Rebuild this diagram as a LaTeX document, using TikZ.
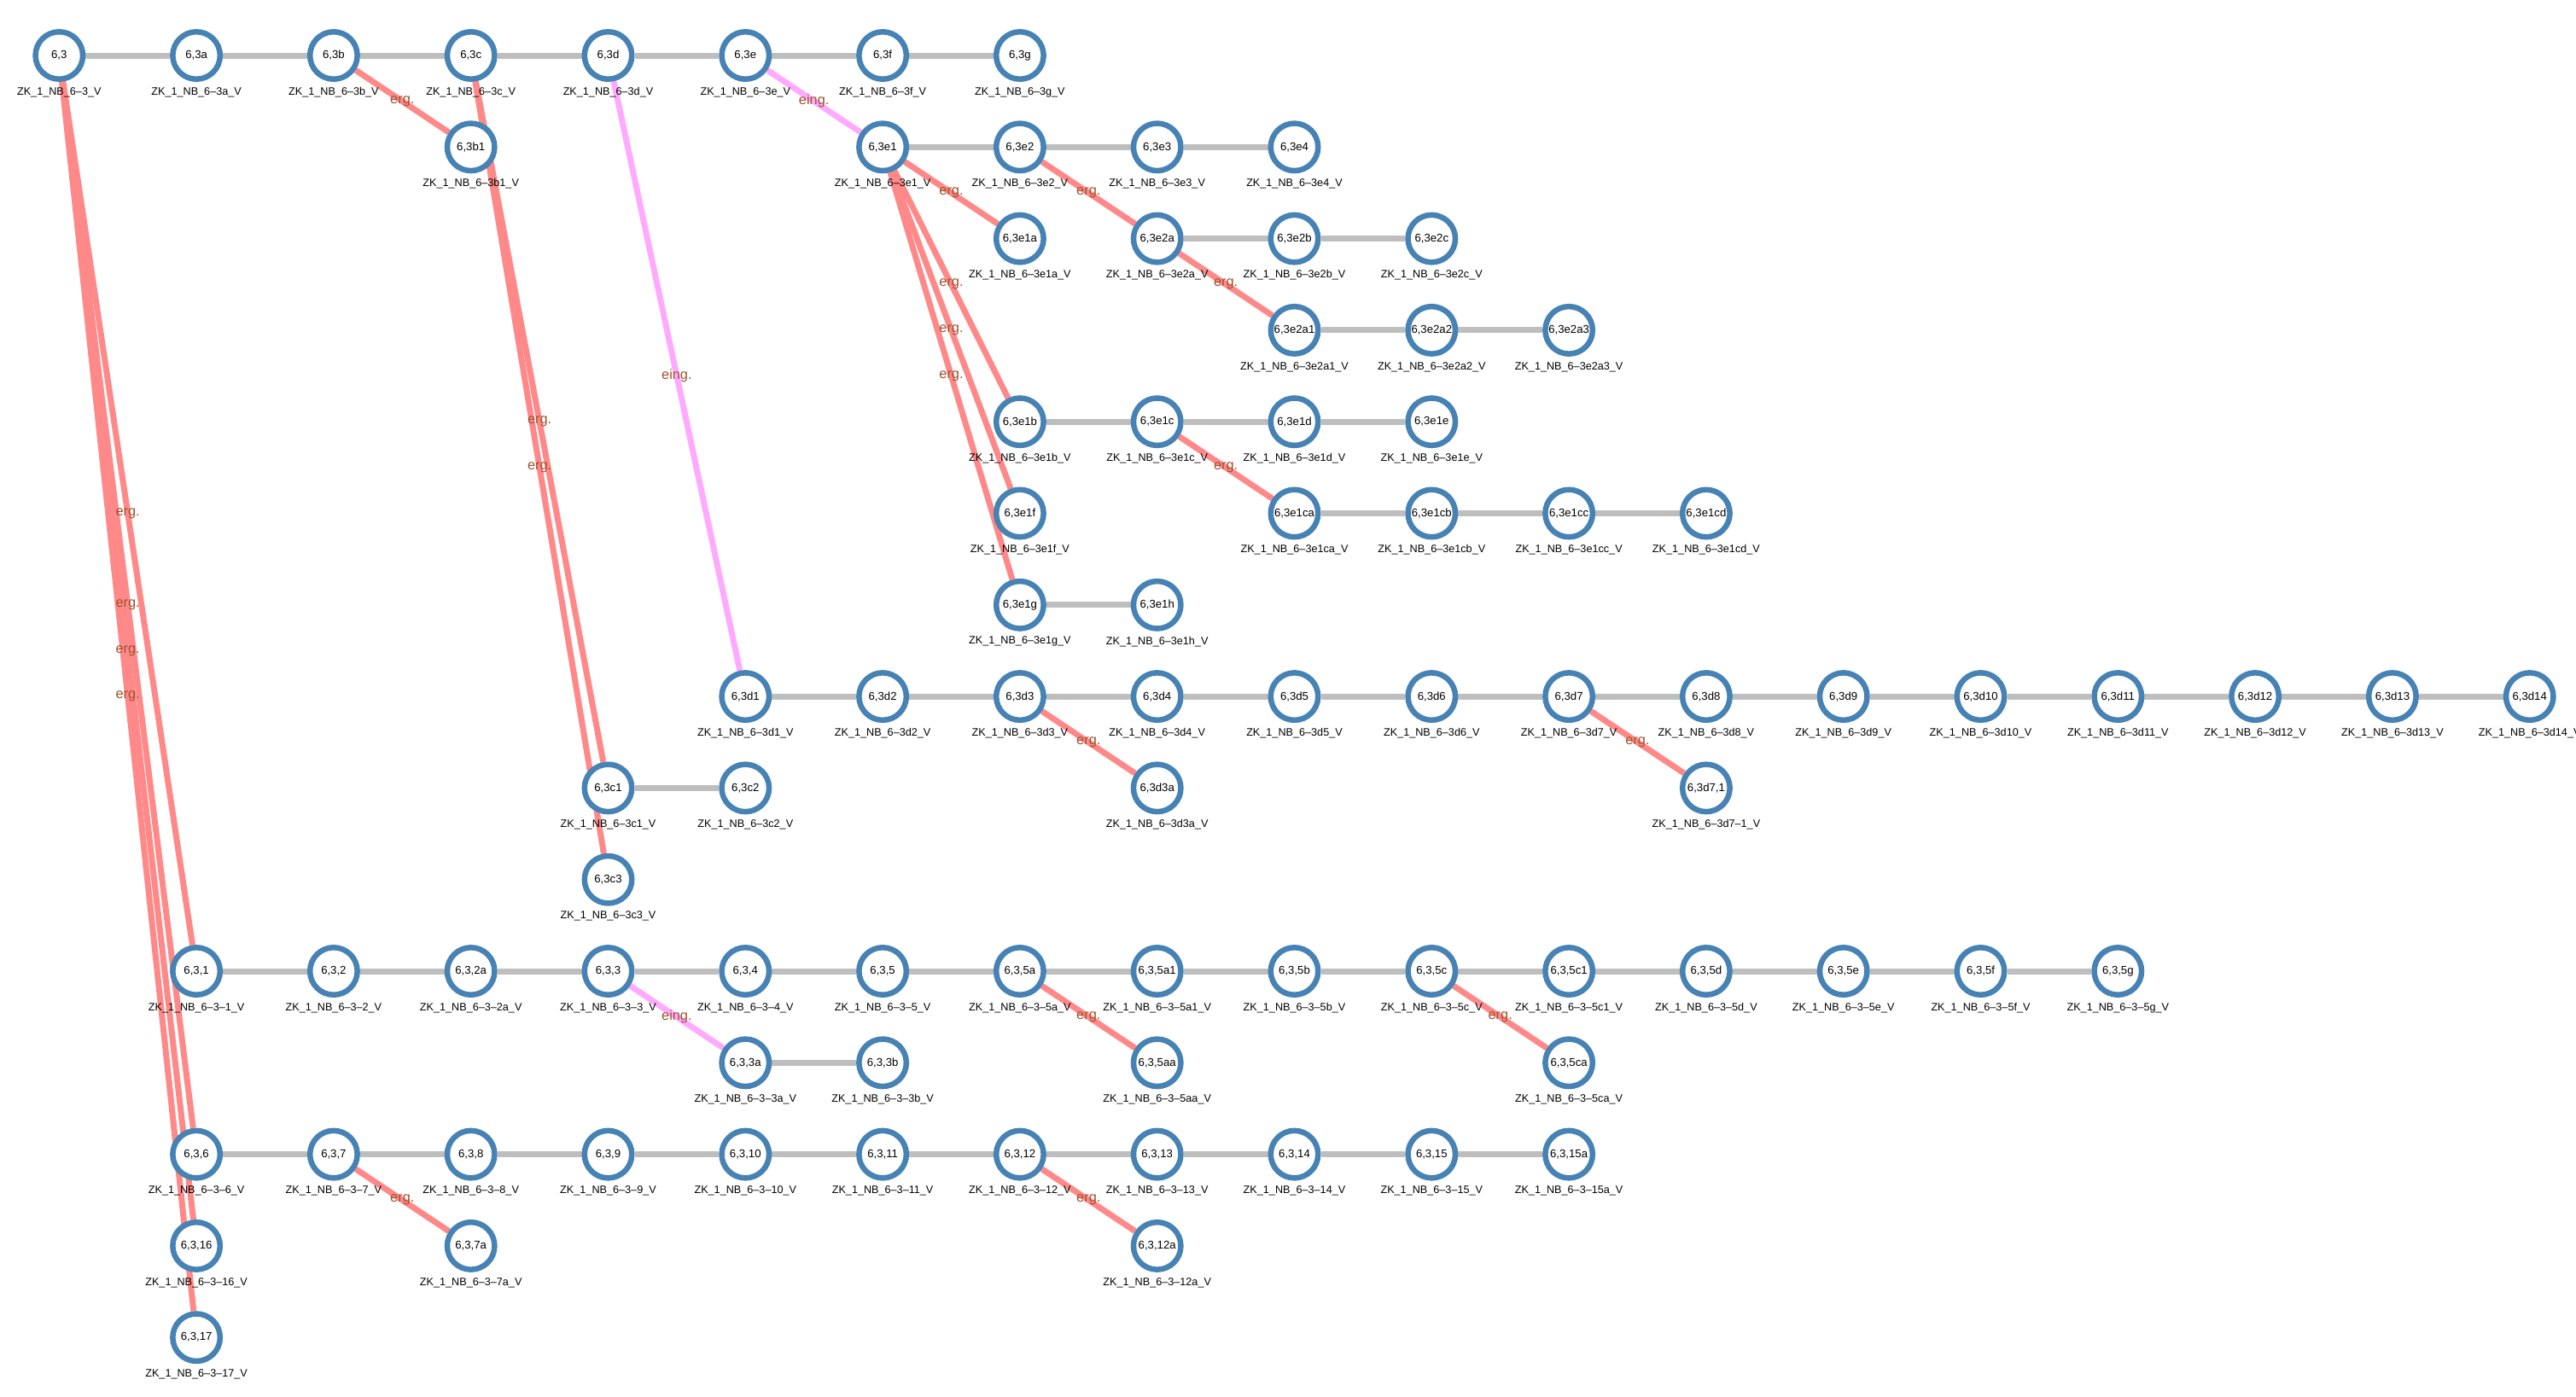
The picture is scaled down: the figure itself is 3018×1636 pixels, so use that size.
\documentclass[tikz,border=0pt]{standalone}
\usepackage{fontspec}
\setmainfont{Liberation Sans}
\usetikzlibrary{calc,backgrounds}

\definecolor{nodeblue}{RGB}{70,130,180}
\definecolor{seqgray}{RGB}{190,190,190}
\definecolor{ergred}{RGB}{255,136,136}
\definecolor{eingpink}{RGB}{255,170,255}
\definecolor{relbrown}{RGB}{160,82,45}

\tikzset{
  zk/.style={circle,draw=nodeblue,line width=0.13cm,fill=white,minimum size=1.11cm,inner sep=0pt,font=\fontsize{7.5}{8}\selectfont},
  zkname/.style={inner sep=0pt,font=\fontsize{7.2}{8}\selectfont},
  seq/.style={draw=seqgray,line width=0.14cm},
  erg/.style={draw=ergred,line width=0.14cm},
  eing/.style={draw=eingpink,line width=0.14cm},
  rel/.style={inner sep=0pt,text=relbrown,font=\fontsize{9.3}{10}\selectfont},
}

\begin{document}
\begin{tikzpicture}[x=0.02cm,y=-0.02cm]
  \useasboundingbox (0,0) rectangle (3018,1636);
  \foreach \c/\r/\id/\txt/\sfx in {
      0/0/3/{6,3}/3, 1/0/3a/{6,3a}/3a, 2/0/3b/{6,3b}/3b, 3/0/3c/{6,3c}/3c,
      4/0/3d/{6,3d}/3d, 5/0/3e/{6,3e}/3e, 6/0/3f/{6,3f}/3f, 7/0/3g/{6,3g}/3g,
      3/1/3b1/{6,3b1}/3b1, 6/1/3e1/{6,3e1}/3e1, 7/1/3e2/{6,3e2}/3e2,
      8/1/3e3/{6,3e3}/3e3, 9/1/3e4/{6,3e4}/3e4,
      7/2/3e1a/{6,3e1a}/3e1a, 8/2/3e2a/{6,3e2a}/3e2a, 9/2/3e2b/{6,3e2b}/3e2b,
      10/2/3e2c/{6,3e2c}/3e2c,
      9/3/3e2a1/{6,3e2a1}/3e2a1, 10/3/3e2a2/{6,3e2a2}/3e2a2, 11/3/3e2a3/{6,3e2a3}/3e2a3,
      7/4/3e1b/{6,3e1b}/3e1b, 8/4/3e1c/{6,3e1c}/3e1c, 9/4/3e1d/{6,3e1d}/3e1d,
      10/4/3e1e/{6,3e1e}/3e1e,
      7/5/3e1f/{6,3e1f}/3e1f, 9/5/3e1ca/{6,3e1ca}/3e1ca, 10/5/3e1cb/{6,3e1cb}/3e1cb,
      11/5/3e1cc/{6,3e1cc}/3e1cc, 12/5/3e1cd/{6,3e1cd}/3e1cd,
      7/6/3e1g/{6,3e1g}/3e1g, 8/6/3e1h/{6,3e1h}/3e1h,
      4/8/3c1/{6,3c1}/3c1, 5/8/3c2/{6,3c2}/3c2, 8/8/3d3a/{6,3d3a}/3d3a,
      12/8/3d7-1/{6,3d7,1}/3d7–1,
      4/9/3c3/{6,3c3}/3c3,
      1/10/3-1/{6,3,1}/3–1, 2/10/3-2/{6,3,2}/3–2, 3/10/3-2a/{6,3,2a}/3–2a,
      4/10/3-3/{6,3,3}/3–3, 5/10/3-4/{6,3,4}/3–4, 6/10/3-5/{6,3,5}/3–5,
      7/10/3-5a/{6,3,5a}/3–5a, 8/10/3-5a1/{6,3,5a1}/3–5a1, 9/10/3-5b/{6,3,5b}/3–5b,
      10/10/3-5c/{6,3,5c}/3–5c, 11/10/3-5c1/{6,3,5c1}/3–5c1, 12/10/3-5d/{6,3,5d}/3–5d,
      13/10/3-5e/{6,3,5e}/3–5e, 14/10/3-5f/{6,3,5f}/3–5f, 15/10/3-5g/{6,3,5g}/3–5g,
      5/11/3-3a/{6,3,3a}/3–3a, 6/11/3-3b/{6,3,3b}/3–3b, 8/11/3-5aa/{6,3,5aa}/3–5aa,
      11/11/3-5ca/{6,3,5ca}/3–5ca,
      1/12/3-6/{6,3,6}/3–6, 2/12/3-7/{6,3,7}/3–7, 3/12/3-8/{6,3,8}/3–8,
      4/12/3-9/{6,3,9}/3–9, 5/12/3-10/{6,3,10}/3–10, 6/12/3-11/{6,3,11}/3–11,
      7/12/3-12/{6,3,12}/3–12, 8/12/3-13/{6,3,13}/3–13, 9/12/3-14/{6,3,14}/3–14,
      10/12/3-15/{6,3,15}/3–15, 11/12/3-15a/{6,3,15a}/3–15a,
      1/13/3-16/{6,3,16}/3–16, 3/13/3-7a/{6,3,7a}/3–7a, 8/13/3-12a/{6,3,12a}/3–12a,
      1/14/3-17/{6,3,17}/3–17}
  {
    \node[zk] (n\id) at ({69.3+\c*160.8},{65+\r*107.3}) {\txt};
    \node[zkname] (l\id) at ($(n\id)+(0,43)$) {ZK\_1\_NB\_6–\sfx\_V};
  }
  \foreach \i in {1,...,14}
  {
    \node[zk] (n3d\i) at ({69.3+(4+\i)*160.8},{65+7*107.3}) {6,3d\i};
    \node[zkname] (l3d\i) at ($(n3d\i)+(0,43)$) {ZK\_1\_NB\_6–3d\i\_V};
  }
  \begin{scope}[on background layer]
    \foreach \a/\b in {n3/n3a, n3a/n3b, n3b/n3c, n3c/n3d, n3d/n3e, n3e/n3f, n3f/n3g,
        n3e1/n3e2, n3e2/n3e3, n3e3/n3e4, n3e2a/n3e2b, n3e2b/n3e2c,
        n3e2a1/n3e2a2, n3e2a2/n3e2a3, n3e1b/n3e1c, n3e1c/n3e1d, n3e1d/n3e1e,
        n3e1ca/n3e1cb, n3e1cb/n3e1cc, n3e1cc/n3e1cd, n3e1g/n3e1h, n3c1/n3c2,
        n3-1/n3-2, n3-2/n3-2a, n3-2a/n3-3, n3-3/n3-4, n3-4/n3-5, n3-5/n3-5a,
        n3-5a/n3-5a1, n3-5a1/n3-5b, n3-5b/n3-5c, n3-5c/n3-5c1, n3-5c1/n3-5d,
        n3-5d/n3-5e, n3-5e/n3-5f, n3-5f/n3-5g, n3-3a/n3-3b,
        n3-6/n3-7, n3-7/n3-8, n3-8/n3-9, n3-9/n3-10, n3-10/n3-11, n3-11/n3-12,
        n3-12/n3-13, n3-13/n3-14, n3-14/n3-15, n3-15/n3-15a}
      \draw[seq] (\a) -- (\b);
    \foreach \i [evaluate=\i as \j using int(\i+1)] in {1,...,13}
      \draw[seq] (n3d\i) -- (n3d\j);
  \end{scope}
  \foreach \a/\b in {n3/n3-1, n3/n3-6, n3/n3-16, n3/n3-17, n3b/n3b1, n3c/n3c1, n3c/n3c3,
      n3e1/n3e1a, n3e1/n3e1b, n3e1/n3e1f, n3e1/n3e1g, n3e2/n3e2a, n3e2a/n3e2a1,
      n3e1c/n3e1ca, n3d3/n3d3a, n3d7/n3d7-1, n3-5a/n3-5aa, n3-5c/n3-5ca,
      n3-7/n3-7a, n3-12/n3-12a}
  {
    \begin{scope}[on background layer]
      \draw[erg] (\a) -- (\b);
    \end{scope}
    \path (\a) -- node[rel] (r\a\b) {erg.} (\b);
  }
  \foreach \a/\b in {n3e/n3e1, n3d/n3d1, n3-3/n3-3a}
  {
    \begin{scope}[on background layer]
      \draw[eing] (\a) -- (\b);
    \end{scope}
    \path (\a) -- node[rel] (r\a\b) {eing.} (\b);
  }
\end{tikzpicture}
\end{document}
